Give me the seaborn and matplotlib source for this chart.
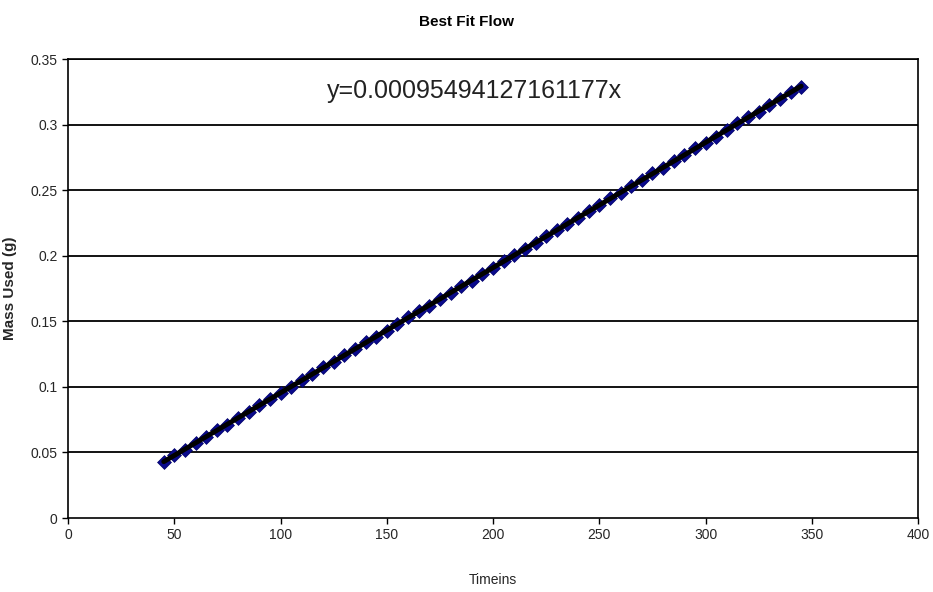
import numpy as np
import pandas as pd
import matplotlib
matplotlib.use("Agg")
import matplotlib.pyplot as plt
import seaborn as sns

# measured data (time in s, mass used in g)
time_s = [45, 50, 55, 60, 65, 70, 75, 80, 85, 90,
          95, 100, 105, 110, 115, 120, 125, 130, 135, 140,
          145, 150, 155, 160, 165, 170, 175, 180, 185, 190,
          195, 200, 205, 210, 215, 220, 225, 230, 235, 240,
          245, 250, 255, 260, 265, 270, 275, 280, 285, 290,
          295, 300, 305, 310, 315, 320, 325, 330, 335, 340, 345]
mass_g = [0.043, 0.048, 0.052, 0.057, 0.062, 0.067, 0.071, 0.076, 0.081, 0.086,
          0.091, 0.095, 0.100, 0.105, 0.110, 0.115, 0.119, 0.124, 0.129, 0.134,
          0.138, 0.143, 0.148, 0.153, 0.158, 0.162, 0.167, 0.172, 0.177, 0.181,
          0.186, 0.191, 0.196, 0.201, 0.205, 0.210, 0.215, 0.220, 0.224, 0.229,
          0.234, 0.239, 0.244, 0.248, 0.253, 0.258, 0.263, 0.267, 0.272, 0.277,
          0.282, 0.286, 0.291, 0.296, 0.301, 0.306, 0.310, 0.315, 0.320, 0.325, 0.329]
slope = 0.00095494127161177
equation_label = "y=0.00095494127161177x"

sns.set_style("white")
plt.rcParams['font.family'] = ['Liberation Sans', 'DejaVu Sans']

df = pd.DataFrame({"Timeins": time_s, "Mass": mass_g})
fit = pd.DataFrame({"Timeins": [min(time_s), max(time_s)]})
fit["Mass"] = slope * fit["Timeins"]

fig = plt.figure(figsize=(9.33, 5.92), dpi=100)
ax = fig.add_axes([0.073, 0.125, 0.911, 0.775])

for yv in np.arange(0.05, 0.36, 0.05):
    ax.axhline(yv, color="black", lw=1.3, zorder=0)

sns.scatterplot(data=df, x="Timeins", y="Mass", marker="D", s=50,
                color="#0A0A8C", edgecolor="#00006A", linewidth=0.5, ax=ax, zorder=2)
sns.lineplot(data=fit, x="Timeins", y="Mass", color="black", lw=3.5, ax=ax, zorder=3)

ax.set_xlim(0, 400)
ax.set_ylim(0, 0.35)
ax.set_xticks(range(0, 401, 50))
ax.set_yticks(np.arange(0, 0.351, 0.05))
ax.set_yticklabels(["0", "0.05", "0.1", "0.15", "0.2", "0.25", "0.3", "0.35"])
ax.tick_params(axis="both", direction="out", length=4, width=1, labelsize=10,
               bottom=True, left=True, color="black")
for sp in ax.spines.values():
    sp.set_color("black")
    sp.set_linewidth(1.2)

ax.text(191, 0.326, equation_label, fontsize=18, ha="center", va="center", color="#222222")

ax.set_xlabel("Timeins", fontsize=10, labelpad=22)
ax.set_ylabel("Mass Used (g)", fontsize=11, fontweight="bold", labelpad=10)
fig.suptitle("Best Fit Flow", fontsize=11, fontweight="bold", x=0.5, y=0.975, color="black")

fig.savefig("out.png", dpi=100)
